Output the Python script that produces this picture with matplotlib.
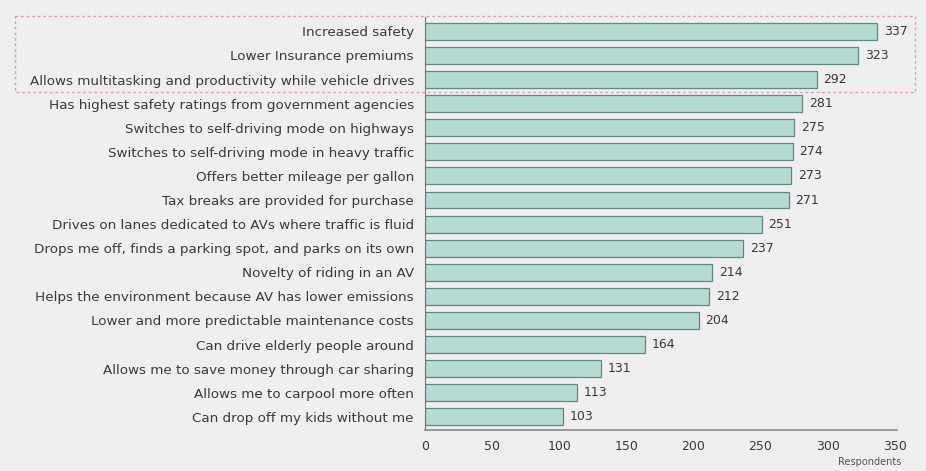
import matplotlib.pyplot as plt
import matplotlib.transforms as mtransforms
from matplotlib.patches import Rectangle

# Данные
reasons = [
    'Increased safety',
    'Lower Insurance premiums',
    'Allows multitasking and productivity while vehicle drives',
    'Has highest safety ratings from government agencies',
    'Switches to self-driving mode on highways',
    'Switches to self-driving mode in heavy traffic',
    'Offers better mileage per gallon',
    'Tax breaks are provided for purchase',
    'Drives on lanes dedicated to AVs where traffic is fluid',
    'Drops me off, finds a parking spot, and parks on its own',
    'Novelty of riding in an AV',
    'Helps the environment because AV has lower emissions',
    'Lower and more predictable maintenance costs',
    'Can drive elderly people around',
    'Allows me to save money through car sharing',
    'Allows me to carpool more often',
    'Can drop off my kids without me',
]
respondents = [337, 323, 292, 281, 275, 274, 273, 271, 251, 237,
               214, 212, 204, 164, 131, 113, 103]
x_ticks = [0, 50, 100, 150, 200, 250, 300, 350]

bg = '#efefef'
text_color = '#3a3a3a'

fig = plt.figure(figsize=(9.26, 4.71), dpi=100, facecolor=bg)
ax = fig.add_axes([0.459, 0.087, 0.510, 0.877])
ax.set_facecolor(bg)

y = list(range(len(reasons)))
ax.barh(y, respondents, height=0.7, color='#b6dbd3', edgecolor='#5f8784', linewidth=0.9)

for yi, v in zip(y, respondents):
    ax.text(v + 5, yi, str(v), va='center', ha='left', fontsize=9, color=text_color)

ax.set_yticks(y)
ax.set_yticklabels(reasons, fontsize=9.7, color=text_color)
ax.tick_params(axis='y', length=0, pad=8)
ax.set_ylim(len(reasons) - 0.45, -0.6)

ax.set_xlim(0, 352)
ax.set_xticks(x_ticks)
ax.tick_params(axis='x', length=0, labelsize=9, labelcolor=text_color, pad=7)

for side in ['top', 'right']:
    ax.spines[side].set_visible(False)
ax.spines['left'].set_color('#5f7f84')
ax.spines['bottom'].set_color('#8a8a8a')
ax.spines['bottom'].set_linewidth(1.2)

fig.text(0.973, 0.008, 'Respondents', ha='right', va='bottom', fontsize=7, color='#555555')

# Пунктирная рамка вокруг трёх первых позиций
trans = mtransforms.blended_transform_factory(fig.transFigure, ax.transData)
box = Rectangle((0.016, -0.62), 0.972, 3.12, transform=trans, fill=False,
                edgecolor='#d9a0a8', linestyle=(0, (2, 2)), linewidth=1.0, clip_on=False)
fig.patches.append(box)

plt.savefig('out.png', dpi=100, facecolor=bg)
